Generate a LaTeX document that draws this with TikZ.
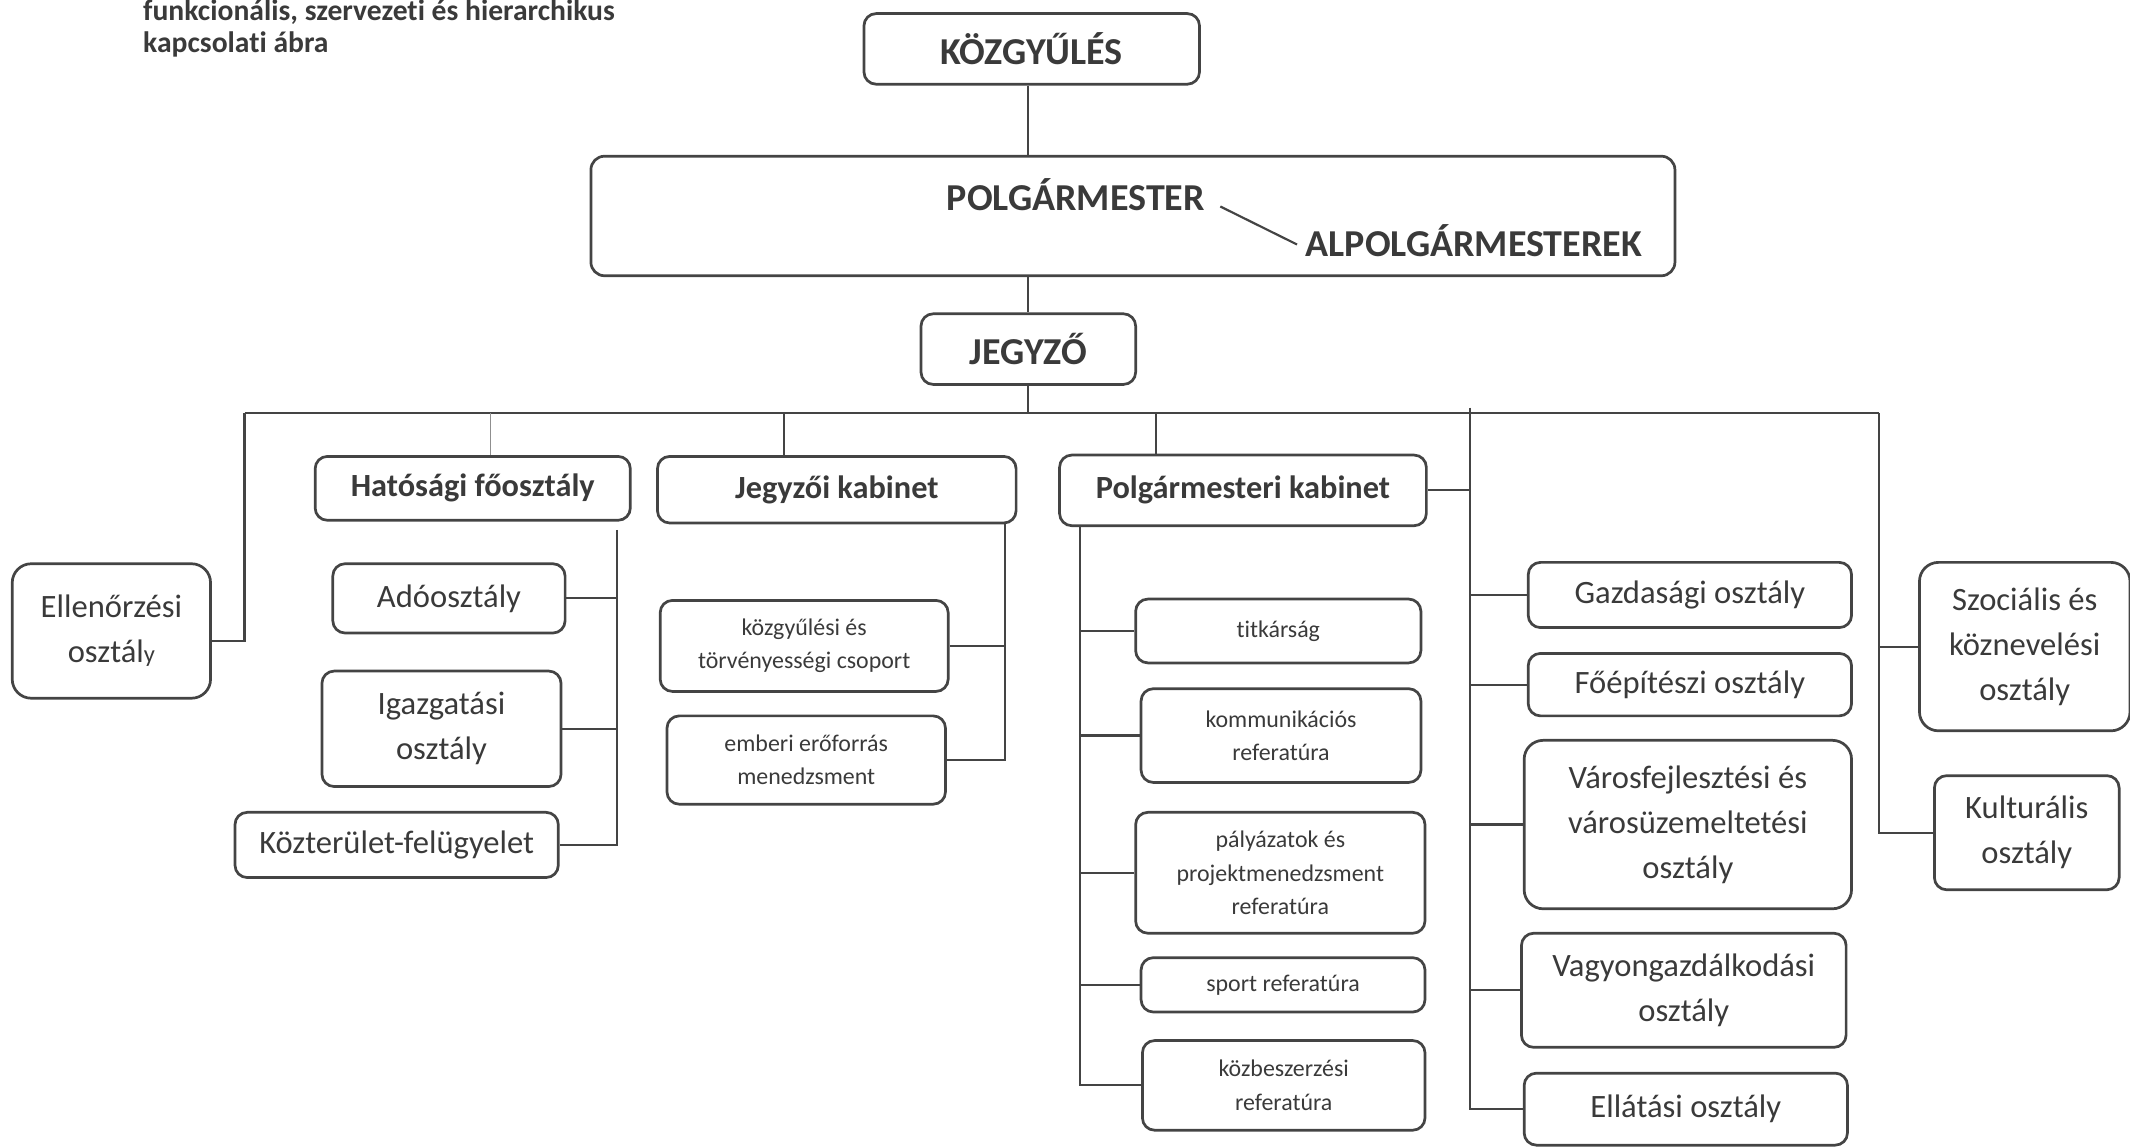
\documentclass[tikz,border=0pt]{standalone}
\usepackage{fontspec}
\setmainfont{Carlito}[Ligatures=NoCommon]
\usetikzlibrary{calc}
\definecolor{ink}{HTML}{3A3A3A}
\definecolor{edge}{HTML}{444444}
% #1 style, #2 name, #3 x1, #4 y1, #5 x2, #6 y2, #7 text
\newcommand\obox[7]{\node[box,#1,minimum width={(#5-#3)*0.5pt},minimum height={(#6-#4)*0.5pt}] (#2) at ({(#3+#5)/2},{(#4+#6)/2}) {#7};}
\begin{document}
\begin{tikzpicture}[x=0.5pt,y=-0.5pt,
  box/.style={draw=edge, line width=1pt, rounded corners=4.5pt, inner sep=0pt, align=center, text=ink},
  bigr/.style={rounded corners=7pt},
  conn/.style={draw=edge, line width=0.8pt},
  thinln/.style={draw=edge!60, line width=0.5pt},
  fH/.style={font=\fontsize{14}{16}\selectfont\bfseries},
  fB/.style={font=\fontsize{11.9}{14}\selectfont\bfseries},
  fR/.style={font=\fontsize{12}{16.5}\selectfont},
  fS/.style={font=\fontsize{8.8}{12.3}\selectfont},
  ttl/.style={anchor=base west, inner sep=0pt, text=ink, font=\fontsize{10.9}{12}\selectfont\bfseries},
  lbl/.style={inner sep=0pt, text=ink}
]
\useasboundingbox (0,0) rectangle (1568,844);

% title
\node[ttl] (t1) at (105,15) {funkcionális, szervezeti és hierarchikus};
\node[ttl] (t2) at (105,39) {kapcsolati ábra};

% top hierarchy
\obox{fH}{koz}{636}{10}{883}{62}{KÖZGYŰLÉS}
\obox{rounded corners=5pt}{polg}{435}{115}{1233}{203}{}
\node[lbl,fH] (pm) at (792,143) {POLGÁRMESTER};
\node[lbl,fH] (apm) at (1085,177) {ALPOLGÁRMESTEREK};
\draw[conn] ($(pm.east)+(11,9)$) -- ($(apm.west)+(-6,3)$);
\obox{fH}{jeg}{678}{231}{836}{283}{JEGYZŐ}

\coordinate (busL) at (180,304);
\coordinate (busR) at (1383,304);
\draw[conn] (jeg.north |- koz.south) -- (jeg.north |- polg.north);
\draw[conn] (jeg.north |- polg.south) -- (jeg.north);
\draw[conn] (jeg.south) -- (jeg.south |- busL);
\draw[conn] (busL) -- (busR);

% Ellenőrzési
\obox{fR,bigr}{ell}{9}{415}{155}{514}{Ellenőrzési\\osztál{\fontsize{9}{9}\selectfont y}}
\coordinate (ellj) at (180,472);
\draw[conn] (busL) -- (ellj) -- (ell.east |- ellj);

% Hatósági főosztály
\obox{fB}{hat}{232}{336}{464}{383}{Hatósági főosztály}
\coordinate (hatd) at (361,304);
\draw[thinln] (hatd) -- (hatd |- hat.north);
\obox{fR}{ado}{245}{415}{416}{466}{Adóosztály}
\obox{fR}{igaz}{237}{494}{413}{579}{Igazgatási\\osztály}
\obox{fR}{kozt}{173}{598}{411}{646}{Közterület-felügyelet}
\coordinate (hbT) at (454,390);
\draw[conn] (hbT) -- (hbT |- kozt.east) -- (kozt.east);
\draw[conn] (ado.east) -- (ado.east -| hbT);
\draw[conn] (igaz.east) -- (igaz.east -| hbT);

% Jegyzői kabinet
\obox{fB}{jk}{484}{336}{748}{385}{Jegyzői kabinet}
\coordinate (jkd) at (577,304);
\draw[conn] (jkd) -- (jkd |- jk.north);
\obox{fS}{kgy}{486}{442}{698}{509}{közgyűlési és\\törvényességi csoport}
\obox{fS}{emb}{491}{527}{696}{592}{emberi erőforrás\\menedzsment}
\coordinate (jbT) at (740,385);
\draw[conn] (jbT) -- (jbT |- emb.east) -- (emb.east);
\draw[conn] (kgy.east) -- (kgy.east -| jbT);

% Polgármesteri kabinet
\obox{fB}{pk}{780}{335}{1050}{387}{Polgármesteri kabinet}
\coordinate (pkd) at (851,304);
\draw[conn] (pkd) -- (pkd |- pk.north);
\coordinate (mbus) at (1082,300);
\draw[conn] (pk.east) -- (pk.east -| mbus);
\obox{fS}{tit}{836}{441}{1046}{488}{titkárság}
\obox{fS}{komm}{840}{507}{1046}{576}{kommunikációs\\referatúra}
\obox{fS}{paly}{836}{598}{1049}{687}{pályázatok és\\projektmenedzsment\\referatúra}
\obox{fS}{sport}{840}{705}{1049}{745}{sport referatúra}
\obox{fS}{kozb}{841}{766}{1049}{832}{közbeszerzési\\referatúra}
\coordinate (pbT) at (795,387);
\draw[conn] (pbT) -- (pbT |- kozb.west) -- (kozb.west);
\foreach \n in {tit,komm,paly,sport}{\draw[conn] (\n.west) -- (\n.west -| pbT);}

% middle column of departments
\obox{fR}{gaz}{1125}{414}{1363}{462}{Gazdasági osztály}
\obox{fR}{foep}{1125}{481}{1363}{527}{Főépítészi osztály}
\obox{fR,bigr}{varos}{1122}{545}{1363}{669}{Városfejlesztési és\\városüzemeltetési\\osztály}
\obox{fR}{vagy}{1120}{687}{1359}{771}{Vagyongazdálkodási\\osztály}
\obox{fR}{ella}{1122}{790}{1360}{843}{Ellátási osztály}
\draw[conn] (mbus) -- (mbus |- ella.west) -- (ella.west);
\foreach \n in {gaz,foep,varos,vagy}{\draw[conn] (\n.west) -- (\n.west -| mbus);}

% right column
\obox{fR,bigr}{szoc}{1413}{414}{1568}{538}{Szociális és\\köznevelési\\osztály}
\obox{fR}{kult}{1424}{571}{1560}{655}{Kulturális\\osztály}
\draw[conn] (busR) -- (busR |- kult.west) -- (kult.west);
\draw[conn] (szoc.west) -- (szoc.west -| busR);
\end{tikzpicture}
\end{document}
